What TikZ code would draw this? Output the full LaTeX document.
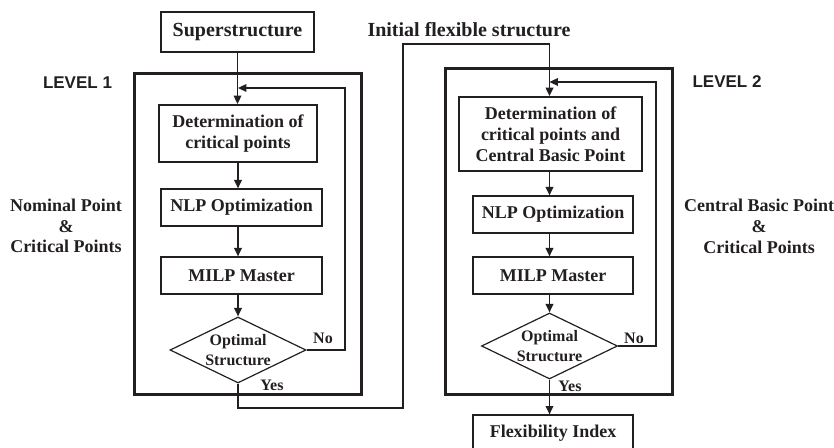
\documentclass[tikz,border=0pt]{standalone}
\usepackage{fontspec}
\setmainfont{Liberation Serif}
\newfontfamily\arialfont{Liberation Sans}
\usetikzlibrary{shapes.geometric,arrows.meta}
\definecolor{ink}{HTML}{231F20}
\tikzset{
  box/.style={draw=ink, line width=0.6pt, inner sep=0pt, align=center, font=\bfseries\fontsize{9}{10.5}\selectfont, text=ink},
  detbox/.style={box, line width=1pt},
  decision/.style={draw=ink, diamond, line width=0.6pt, inner sep=0pt, minimum width=68pt, minimum height=33pt},
  dectext/.style={align=center, font=\bfseries\fontsize{8}{10}\selectfont, text=ink, inner sep=0pt},
  levelbox/.style={draw=ink, line width=1.5pt},
  flow/.style={draw=ink, line width=0.8pt, -{Triangle[length=4.2pt,width=3.8pt]}},
  lvl/.style={font=\arialfont\bfseries\fontsize{8.5}{10}\selectfont, text=ink, inner sep=0pt},
  side/.style={align=center, font=\bfseries\fontsize{9}{10.4}\selectfont, text=ink, inner sep=0pt},
  ans/.style={font=\bfseries\fontsize{8}{10}\selectfont, text=ink, inner sep=0pt},
}
\begin{document}
\begin{tikzpicture}[x=0.5pt, y=-0.5pt]
\useasboundingbox (0,0) rectangle (834,448);
\clip (0,0) rectangle (834,448);

% level frames
\draw[levelbox] (134,74) rectangle (361,394);
\draw[levelbox] (445,69) rectangle (672,394);

% level 1 nodes
\node[box, font=\bfseries\fontsize{10}{12}\selectfont, minimum width=76.5pt, minimum height=20pt] (sup) at (237.5,32) {Superstructure};
\node[detbox, minimum width=79pt, minimum height=28.5pt] (d1) at (238,133.5) {Determination of\\critical points};
\node[box, minimum width=80.5pt, minimum height=18.5pt] (n1) at (241.5,207.5) {NLP Optimization};
\node[box, minimum width=80.5pt, minimum height=18.5pt] (m1) at (241.5,275.5) {MILP Master};
\node[decision] (o1) at (238,350) {};
\node[dectext] (o1t) at (o1.center) {Optimal\\Structure};

% level 2 nodes
\node[detbox, minimum width=91.5pt, minimum height=37pt] (d2) at (550.5,134) {Determination of\\critical points and\\Central Basic Point};
\node[box, minimum width=80pt, minimum height=18.5pt] (n2) at (553,214.5) {NLP Optimization};
\node[box, minimum width=80pt, minimum height=18.5pt] (m2) at (553,275.5) {MILP Master};
\node[decision] (o2) at (549.5,346) {};
\node[dectext] (o2t) at (o2.center) {Optimal\\Structure};
\node[box, minimum width=80pt, minimum height=18pt] (flex) at (553,433) {Flexibility Index};

% labels
\node[lvl] (lv1) at (77.5,83) {LEVEL 1};
\node[lvl] (lv2) at (727,82) {LEVEL 2};
\node[side] (s1) at (66,226) {Nominal Point\\\&\\Critical Points};
\node[side] (s2) at (759,226.5) {Central Basic Point\\\&\\Critical Points};
\node[font=\bfseries\fontsize{10}{12}\selectfont, text=ink, inner sep=0pt] (ifs) at (469,30) {Initial flexible structure};
\node[ans] (no1) at (323,338) {No};
\node[ans] (yes1) at (272,385) {Yes};
\node[ans] (no2) at (634,338) {No};
\node[ans] (yes2) at (570,386) {Yes};

% level 1 connectors
\draw[flow] (sup.south) -- (sup.south |- d1.north);
\draw[flow] (d1.south) -- (d1.south |- n1.north);
\draw[flow] (d1.south |- n1.south) -- (d1.south |- m1.north);
\draw[flow] (d1.south |- m1.south) -- (o1.north);
\coordinate (fb1) at (345,88);
\coordinate (in1) at (238,88);
\draw[flow] (o1.east) -| (fb1) -- (in1);

% transfer
\coordinate (c1) at (403,408);
\coordinate (c2) at (403,44);
\draw[flow, line width=0.9pt] (o1.south) |- (c1) -- (c2) -| (d2.north -| o2.north);

% level 2 connectors
\draw[flow] (d2.south -| o2.north) -- (o2.north |- n2.north);
\draw[flow] (o2.north |- n2.south) -- (o2.north |- m2.north);
\draw[flow] (o2.north |- m2.south) -- (o2.north);
\coordinate (fb2) at (656,82);
\coordinate (in2) at (549.5,82);
\draw[flow] (o2.east) -| (fb2) -- (in2);
\draw[flow] (o2.south) -- (o2.south |- flex.north);
\end{tikzpicture}
\end{document}
